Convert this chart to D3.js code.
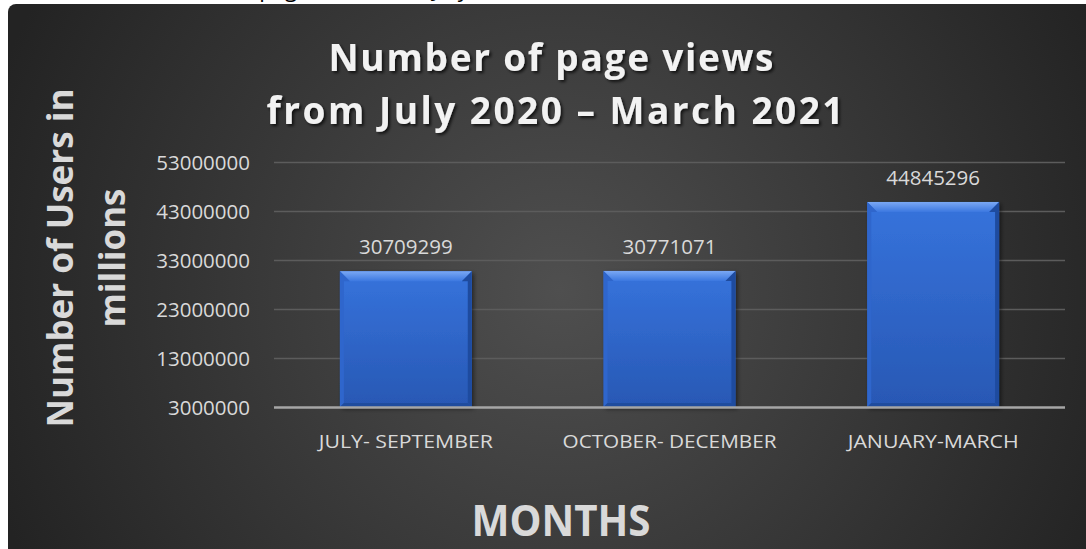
<!DOCTYPE html>
<html><head><meta charset="utf-8">
<script src="https://cdn.jsdelivr.net/npm/d3@7"></script>
<style>html,body{margin:0;padding:0;background:#fff;overflow:hidden}</style>
</head><body><svg id="c" width="1086" height="549"></svg>
<script>
const categories = ["JULY- SEPTEMBER", "OCTOBER- DECEMBER", "JANUARY-MARCH"];
const pageViews = [30709299, 30771071, 44845296];
const yTicks = [3000000, 13000000, 23000000, 33000000, 43000000, 53000000];
const titleLines = ["Number of page views", "from July 2020 – March 2021"];
const yTitleLines = ["Number of Users in", "millions"];
const xTitle = "MONTHS";
const caption = "Number of page views from July 2020 – March 2021";

const W = 1086, H = 549;
const svg = d3.select("#c");
const defs = svg.append("defs");

const bg = defs.append("radialGradient").attr("id", "bg")
  .attr("gradientUnits", "userSpaceOnUse").attr("cx", 560).attr("cy", 290).attr("r", 600);
bg.append("stop").attr("offset", 0).attr("stop-color", "#4f4f4f");
bg.append("stop").attr("offset", 1).attr("stop-color", "#232323");

const barG = defs.append("linearGradient").attr("id", "barG").attr("x1", 0).attr("y1", 0).attr("x2", 0).attr("y2", 1);
barG.append("stop").attr("offset", 0).attr("stop-color", "#3673dc");
barG.append("stop").attr("offset", 1).attr("stop-color", "#2858b4");

const topG = defs.append("linearGradient").attr("id", "topG").attr("x1", 0).attr("y1", 0).attr("x2", 0).attr("y2", 1);
topG.append("stop").attr("offset", 0).attr("stop-color", "#7aa8f4");
topG.append("stop").attr("offset", 1).attr("stop-color", "#3c78e0");

const sh = defs.append("filter").attr("id", "sh").attr("x", "-10%").attr("y", "-20%").attr("width", "130%").attr("height", "160%");
sh.append("feDropShadow").attr("dx", 2).attr("dy", 2).attr("stdDeviation", 1.5).attr("flood-color", "#000").attr("flood-opacity", 0.7);

const bsh = defs.append("filter").attr("id", "bsh").attr("x", "-10%").attr("y", "-10%").attr("width", "130%").attr("height", "130%");
bsh.append("feDropShadow").attr("dx", 2).attr("dy", 2).attr("stdDeviation", 2).attr("flood-color", "#000").attr("flood-opacity", 0.5);

// caption fragment above panel (only descenders visible, as in the reference)
svg.append("text").attr("x", 142).attr("y", -3)
  .attr("font-family", "Open Sans, sans-serif").attr("font-size", 22).attr("fill", "#000")
  .text(caption);

// panel
svg.append("rect").attr("x", 8).attr("y", 4).attr("width", W + 20).attr("height", H + 20)
  .attr("rx", 8).attr("fill", "url(#bg)");

const plot = { left: 274, right: 1065, top: 162, bottom: 407 };
const x = d3.scaleBand().domain(categories).range([plot.left, plot.right]).paddingInner(0.5).paddingOuter(0.25);
const y = d3.scaleLinear().domain([3000000, 53000000]).range([plot.bottom, plot.top]);

// gridlines
svg.append("g").selectAll("line").data(yTicks.slice(1)).join("line")
  .attr("x1", plot.left).attr("x2", plot.right)
  .attr("y1", d => Math.round(y(d)) + 0.5).attr("y2", d => Math.round(y(d)) + 0.5)
  .attr("stroke", "#5c5c5c").attr("stroke-width", 1.5);

// y axis labels
const yAxis = d3.axisLeft(y).tickValues(yTicks).tickSize(0).tickPadding(0).tickFormat(d3.format("d"));
const ya = svg.append("g").attr("transform", `translate(250,0)`).call(yAxis);
ya.select(".domain").remove();
ya.selectAll("text").attr("font-family", "Open Sans, sans-serif").attr("font-size", 20.5)
  .attr("fill", "#d9d9d9").attr("dy", "0.36em");

// bars
const bars = svg.append("g");
categories.forEach((c, i) => {
  const v = pageViews[i];
  const x0 = x(c), x1 = x(c) + x.bandwidth();
  const y0 = y(v), y1 = y(3000000);
  const g = bars.append("g");
  g.append("rect").attr("x", x0).attr("y", y0).attr("width", x1 - x0).attr("height", y1 - y0)
    .attr("fill", "url(#barG)").attr("filter", "url(#bsh)");
  const t = 10, s = 4, b = 4;
  g.append("polygon").attr("points", [[x0, y0], [x1, y0], [x1 - t, y0 + t], [x0 + t, y0 + t]].join(" "))
    .attr("fill", "url(#topG)");
  g.append("polygon").attr("points", [[x0, y0], [x0 + t, y0 + t], [x0 + s, y0 + t], [x0 + s, y1 - b], [x0, y1]].join(" "))
    .attr("fill", "#2f66cc");
  g.append("polygon").attr("points", [[x1, y0], [x1, y1], [x1 - s, y1 - b], [x1 - s, y0 + t], [x1 - t, y0 + t]].join(" "))
    .attr("fill", "#1e4b9f");
  g.append("polygon").attr("points", [[x0, y1], [x0 + s, y1 - b], [x1 - s, y1 - b], [x1, y1]].join(" "))
    .attr("fill", "#1f4c9e");
  g.append("text").attr("x", (x0 + x1) / 2).attr("y", y0 - 17).attr("text-anchor", "middle")
    .attr("font-family", "Open Sans, sans-serif").attr("font-size", 20.5).attr("fill", "#d9d9d9")
    .text(d3.format("d")(v));
});

// baseline axis
svg.append("line").attr("x1", plot.left).attr("x2", plot.right)
  .attr("y1", plot.bottom + 0.5).attr("y2", plot.bottom + 0.5)
  .attr("stroke", "#a6a6a6").attr("stroke-width", 2.5);

// x axis labels
const catWidths = [174, 214, 171];
const xAxis = d3.axisBottom(x).tickSize(0).tickPadding(0);
const xa = svg.append("g").attr("transform", `translate(0,${plot.bottom})`).call(xAxis);
xa.select(".domain").remove();
xa.selectAll("text").attr("font-family", "Open Sans, sans-serif").attr("font-size", 19)
  .attr("fill", "#d9d9d9").attr("dy", 0).attr("y", 41)
  .attr("textLength", (d, i) => catWidths[i]).attr("lengthAdjust", "spacingAndGlyphs");

// title
const tt = svg.append("g").attr("filter", "url(#sh)");
tt.append("text").attr("x", 551).attr("y", 71).attr("text-anchor", "middle")
  .attr("font-family", "Open Sans, sans-serif").attr("font-weight", 700).attr("font-size", 37)
  .attr("fill", "#f2f2f2").attr("textLength", 445).attr("lengthAdjust", "spacing").text(titleLines[0]);
tt.append("text").attr("x", 555).attr("y", 124).attr("text-anchor", "middle")
  .attr("font-family", "Open Sans, sans-serif").attr("font-weight", 700).attr("font-size", 37)
  .attr("fill", "#f2f2f2").attr("textLength", 577).attr("lengthAdjust", "spacing").text(titleLines[1]);

// y title
svg.append("text").attr("transform", "translate(73,258) rotate(-90)").attr("text-anchor", "middle")
  .attr("font-family", "Open Sans, sans-serif").attr("font-weight", 700).attr("font-size", 36)
  .attr("fill", "#d9d9d9").attr("textLength", 339).attr("lengthAdjust", "spacingAndGlyphs").text(yTitleLines[0]);
svg.append("text").attr("transform", "translate(125,258) rotate(-90)").attr("text-anchor", "middle")
  .attr("font-family", "Open Sans, sans-serif").attr("font-weight", 700).attr("font-size", 36)
  .attr("fill", "#d9d9d9").attr("textLength", 139).attr("lengthAdjust", "spacingAndGlyphs").text(yTitleLines[1]);

// x title
svg.append("text").attr("x", 561).attr("y", 536).attr("text-anchor", "middle")
  .attr("font-family", "Open Sans, sans-serif").attr("font-weight", 700).attr("font-size", 43)
  .attr("fill", "#d9d9d9").attr("textLength", 179).attr("lengthAdjust", "spacingAndGlyphs").text(xTitle);
</script></body></html>
